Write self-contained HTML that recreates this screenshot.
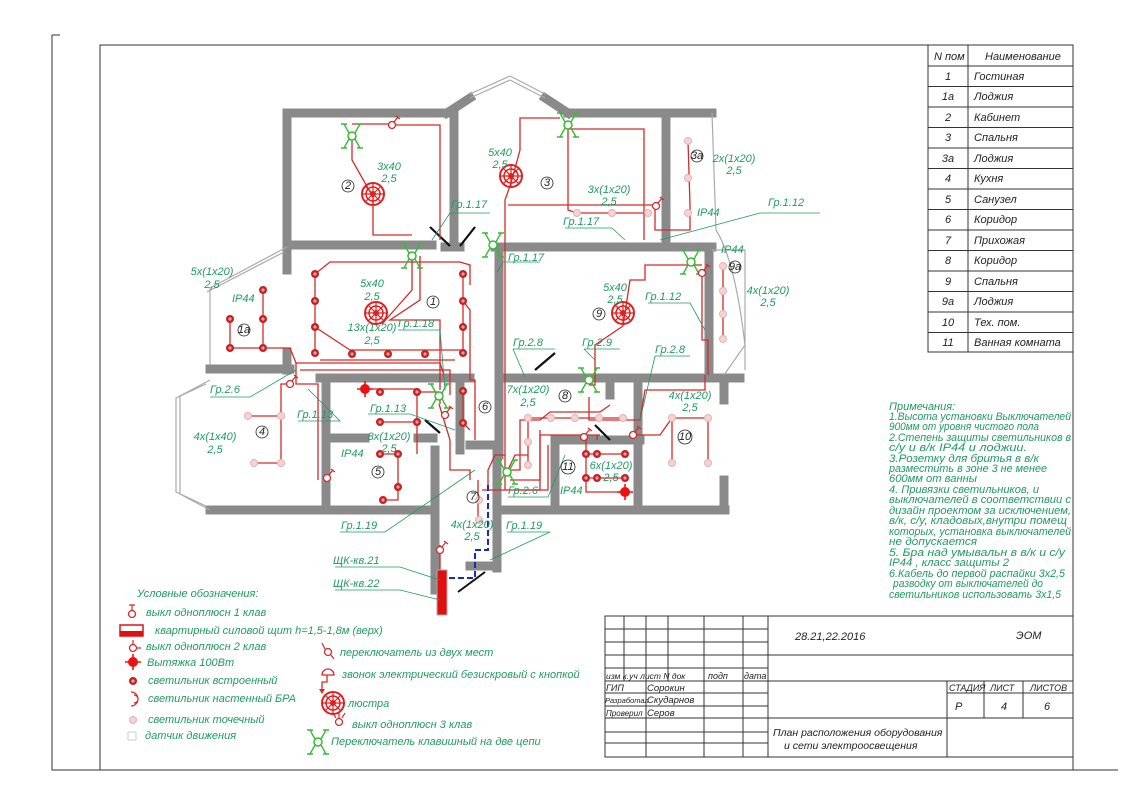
<!DOCTYPE html>
<html><head><meta charset="utf-8"><style>
html,body{margin:0;padding:0;background:#fff}
svg{display:block}
text{font-family:"Liberation Sans","DejaVu Sans",sans-serif;font-style:italic}
.g{fill:#1f9a63;font-size:11px}
.k{fill:#222;font-size:11px}
.w{stroke:#8a8a8a;stroke-width:9;fill:none;stroke-linecap:square}
.r{stroke:#d42a2a;stroke-width:1.3;fill:none}
.gl{stroke:#1f9a63;stroke-width:0.8;fill:none}
.t{stroke:#333;stroke-width:1;fill:none}
</style></head><body>
<svg width="1132" height="800" viewBox="0 0 1132 800" xmlns="http://www.w3.org/2000/svg">
<defs>
<g id="dl"><circle r="4" fill="#c42222"/><circle r="1.6" fill="#f0a0a0"/></g>
<g id="pl"><circle r="3.5" fill="#f3d4d4" stroke="#e8b0b0" stroke-width="1"/></g>
<g id="ch"><circle r="11" fill="none" stroke="#e02020" stroke-width="2"/><circle r="7" fill="none" stroke="#e02020" stroke-width="1.5"/><circle r="3" fill="#e02020"/><path d="M-11 0H11M0-11V11M-8-8L8 8M-8 8L8-8" stroke="#e02020" stroke-width="1.2"/></g>
<g id="sw"><circle r="4" fill="#fff" stroke="#3cb83c" stroke-width="1.5"/><path d="M-3-3L-8-12M3-3L8-12M-3 3L-8 12M3 3L8 12M-11-12H-5M5-12H11M-11 12H-5M5 12H11" stroke="#3cb83c" stroke-width="1.4"/></g>
<g id="s1"><circle r="3.5" fill="#fff" stroke="#d42a2a" stroke-width="1.3"/><path d="M2-3L6-8M4-9L8-6" stroke="#d42a2a" stroke-width="1.2"/></g>
<g id="ex"><circle r="5" fill="#ee1111"/><path d="M-8 0H8M0-8V8" stroke="#ee1111" stroke-width="1.6"/></g>
</defs>

<path d="M52 35V770H1118" class="t"/>
<path d="M52 35H60" class="t"/>
<rect x="100" y="45" width="973" height="725" class="t"/>

<g class="w">
<path d="M287 113H450"/><path d="M447 113L470 98"/><path d="M545 98L568 113"/><path d="M568 113H712"/>
<path d="M287 113V245"/><path d="M287 245H432"/><path d="M445 247H460"/><path d="M454 113V245"/>
<path d="M495 247H712"/><path d="M666 113V240"/>
<path d="M287 245V270"/><path d="M287 352V370"/><path d="M210 369H290"/>
<path d="M499 250V455"/><path d="M320 378H470"/><path d="M499 378H740"/>
<path d="M210 510H433"/><path d="M499 510H725"/>
<path d="M709 248V375"/><path d="M724 380V400"/><path d="M724 480V510"/>
<path d="M326 378V510"/><path d="M326 438H365"/><path d="M418 438H433"/>
<path d="M435 450V590"/><path d="M497 445V568"/><path d="M470 445H497"/><path d="M470 566H497"/>
<path d="M555 440V510"/><path d="M555 440H640"/><path d="M638 380V510"/><path d="M610 380V395"/>
<path d="M460 380V450"/>
</g>
<g stroke="#aaa" stroke-width="1.2" fill="none">
<path d="M470 98L510 80L545 98"/><path d="M470 94L510 76L545 94"/>
<path d="M712 113L716 230Q735 260 745 345L724 375"/>
<path d="M287 247L210 288V365"/><path d="M284 252L207 292"/>
<path d="M210 380L180 396V494L210 510"/><path d="M206 384L176 398V492L206 506"/>
<path d="M712 250H745V370"/>
</g>
<g stroke="#111" stroke-width="2.2">
<path d="M430 227L450 246"/><path d="M475 227L460 246"/><path d="M555 353L535 370"/><path d="M425 420L440 433"/><path d="M595 425L610 440"/>
</g>

<g class="r">
<path d="M352 136V160L373 197V235H412"/>
<path d="M392 125H440V240"/><path d="M352 124H390"/>
<path d="M511 183L520 150V118H560"/><path d="M568 129H644V240"/>
<path d="M511 183L505 200V490"/><path d="M568 129V210L577 213H648"/>
<path d="M508 205H655V230H690V205L688 141"/>
<path d="M412 256V290L382 324"/><path d="M420 256V300L390 320H440V390"/>
<path d="M315 274L330 262H460L470 265V285"/><path d="M315 274V353"/><path d="M315 327L350 350H463"/>
<path d="M463 274V353"/><path d="M463 301L470 310V380H475V440"/>
<path d="M230 319V348H290L296 363"/><path d="M263 290V348"/>
<path d="M296 363H440L444 375"/><path d="M296 363V384H318V480"/>
<path d="M300 370H450V395"/><path d="M320 360H455"/>
<path d="M248 416H281V463H254"/><path d="M281 416V384H290"/>
<path d="M365 389H417V454"/><path d="M380 422H417"/><path d="M380 454H398V500L383 500"/><path d="M417 392H440V404"/>
<path d="M439 404L450 440V470H470V480"/><path d="M463 391V423L470 430"/>
<path d="M623 326L630 280H645V265H702"/><path d="M702 273V340H708V375"/>
<path d="M723 266V339"/><path d="M623 326L595 345V385H589"/>
<path d="M589 397V420H640L645 390H705V375"/>
<path d="M528 418H623"/><path d="M528 418V465"/><path d="M507 472L515 455H528"/>
<path d="M505 470H520V420H540L550 412H600L610 405"/>
<path d="M510 480H540V435H600"/><path d="M515 490H548V445"/>
<path d="M586 454H625"/><path d="M586 478H625"/><path d="M586 440V492H625"/><path d="M597 440V435"/>
<path d="M633 435H660L672 418H708V463"/><path d="M672 418V463"/>
<path d="M488 490V470L495 455H505"/><path d="M478 480V520"/><path d="M482 490H540V430"/>
<path d="M440 545V570"/>
</g>
<g>
<use href="#ch" x="373" y="194"/><use href="#ch" x="511" y="176"/><use href="#ch" x="376" y="313"/><use href="#ch" x="623" y="313"/>
<use href="#dl" x="315" y="274"/><use href="#dl" x="315" y="301"/><use href="#dl" x="315" y="327"/><use href="#dl" x="315" y="353"/><use href="#dl" x="352" y="354"/><use href="#dl" x="388" y="354"/><use href="#dl" x="425" y="354"/><use href="#dl" x="463" y="353"/><use href="#dl" x="463" y="327"/><use href="#dl" x="463" y="301"/><use href="#dl" x="463" y="274"/><use href="#dl" x="463" y="391"/><use href="#dl" x="463" y="423"/>
<use href="#dl" x="263" y="290"/><use href="#dl" x="263" y="319"/><use href="#dl" x="263" y="348"/><use href="#dl" x="230" y="319"/><use href="#dl" x="230" y="348"/>
<use href="#dl" x="380" y="392"/><use href="#dl" x="417" y="392"/><use href="#dl" x="380" y="422"/><use href="#dl" x="417" y="422"/><use href="#dl" x="380" y="454"/><use href="#dl" x="398" y="454"/><use href="#dl" x="398" y="487"/><use href="#dl" x="383" y="500"/>
<use href="#dl" x="586" y="454"/><use href="#dl" x="597" y="454"/><use href="#dl" x="625" y="454"/><use href="#dl" x="586" y="478"/><use href="#dl" x="597" y="478"/><use href="#dl" x="625" y="478"/>
<use href="#ex" x="365" y="389"/><use href="#ex" x="625" y="492"/>
<use href="#pl" x="248" y="416"/><use href="#pl" x="281" y="416"/><use href="#pl" x="254" y="463"/><use href="#pl" x="281" y="463"/>
<use href="#pl" x="672" y="418"/><use href="#pl" x="708" y="418"/><use href="#pl" x="672" y="463"/><use href="#pl" x="708" y="463"/>
<use href="#pl" x="528" y="418"/><use href="#pl" x="551" y="418"/><use href="#pl" x="575" y="418"/><use href="#pl" x="599" y="418"/><use href="#pl" x="623" y="418"/><use href="#pl" x="528" y="442"/><use href="#pl" x="528" y="465"/>
<use href="#pl" x="723" y="266"/><use href="#pl" x="723" y="291"/><use href="#pl" x="723" y="314"/><use href="#pl" x="723" y="339"/>
<use href="#pl" x="688" y="141"/><use href="#pl" x="688" y="178"/><use href="#pl" x="688" y="213"/>
<use href="#pl" x="577" y="213"/><use href="#pl" x="612" y="213"/><use href="#pl" x="648" y="213"/>
<use href="#pl" x="479" y="500"/><use href="#pl" x="479" y="520"/>
<use href="#sw" x="352" y="136"/><use href="#sw" x="568" y="125"/><use href="#sw" x="412" y="256"/><use href="#sw" x="493" y="245"/><use href="#sw" x="439" y="396"/><use href="#sw" x="589" y="380"/><use href="#sw" x="691" y="262"/><use href="#sw" x="507" y="472"/>
<use href="#s1" x="392" y="125"/><use href="#s1" x="656" y="206"/><use href="#s1" x="702" y="273"/><use href="#s1" x="290" y="384"/><use href="#s1" x="327" y="478"/><use href="#s1" x="633" y="435"/><use href="#s1" x="584" y="437"/><use href="#s1" x="445" y="415"/><use href="#s1" x="440" y="550"/>
</g>
<rect x="437" y="570" width="10" height="45" fill="#e01010" stroke="#aaa"/>
<path d="M488 485V550H475V578H447" stroke="#1a2ac0" stroke-width="2" stroke-dasharray="6,3" fill="none"/>
<path d="M458 592L485 572" stroke="#111" stroke-width="2"/>

<g class="gl">
<path d="M450 213H490M450 213L432 240"/><path d="M565 228H612L625 240"/><path d="M503 262H540M503 262L497 272"/>
<path d="M760 213H820M760 213L660 240"/><path d="M648 303H690L705 330"/><path d="M513 349H555M513 349L525 377"/>
<path d="M584 349H620M584 349L595 360"/><path d="M655 356H690M655 356L640 420"/><path d="M398 330H440L445 390"/>
<path d="M210 397H250L296 370"/><path d="M298 421H340L308 389"/><path d="M368 414H410L455 430"/>
<path d="M508 497H548L565 455"/><path d="M340 532H385L475 470"/><path d="M507 532H550L490 560"/>
<path d="M335 567H400L440 580"/><path d="M335 590H400L440 600"/>
</g>

<g class="g" text-anchor="middle">
<text x="389" y="170">3x40</text><text x="389" y="182">2,5</text>
<text x="500" y="156">5x40</text><text x="500" y="168">2,5</text>
<text x="609" y="193">3x(1x20)</text><text x="609" y="205">2,5</text>
<text x="734" y="162">2x(1x20)</text><text x="734" y="174">2,5</text>
<text x="212" y="275">5x(1x20)</text><text x="212" y="288">2,5</text>
<text x="372" y="287">5x40</text><text x="372" y="300">2,5</text>
<text x="372" y="331">13x(1x20)</text><text x="372" y="344">2,5</text>
<text x="615" y="291">5x40</text><text x="615" y="303">2,5</text>
<text x="768" y="294">4x(1x20)</text><text x="768" y="306">2,5</text>
<text x="528" y="393">7x(1x20)</text><text x="528" y="406">2,5</text>
<text x="690" y="399">4x(1x20)</text><text x="690" y="411">2,5</text>
<text x="389" y="440">8x(1x20)</text><text x="389" y="452">2,5</text>
<text x="215" y="440">4x(1x40)</text><text x="215" y="453">2,5</text>
<text x="611" y="469">6x(1x20)</text><text x="611" y="481">2,5</text>
<text x="472" y="528">4x(1x20)</text><text x="472" y="540">2,5</text>
</g>
<g class="g">
<text x="451" y="208">Гр.1.17</text><text x="563" y="225">Гр.1.17</text><text x="508" y="261">Гр.1.17</text>
<text x="768" y="206">Гр.1.12</text><text x="697" y="216">IP44</text><text x="721" y="253">IP44</text>
<text x="232" y="302">IP44</text><text x="398" y="327">Гр.1.18</text><text x="645" y="300">Гр.1.12</text>
<text x="513" y="346">Гр.2.8</text><text x="582" y="346">Гр.2.9</text><text x="655" y="353">Гр.2.8</text>
<text x="210" y="393">Гр.2.6</text><text x="297" y="418">Гр.1.13</text><text x="370" y="412">Гр.1.13</text>
<text x="341" y="457">IP44</text><text x="560" y="494">IP44</text><text x="508" y="494">Гр.2.6</text>
<text x="341" y="529">Гр.1.19</text><text x="506" y="529">Гр.1.19</text>
<text x="333" y="564">ЩК-кв.21</text><text x="333" y="587">ЩК-кв.22</text>
</g>
<g font-size="10" text-anchor="middle">
<g fill="none" stroke="#222" stroke-width="0.8">
<circle cx="348" cy="186" r="6"/><circle cx="547" cy="183" r="6"/><circle cx="433" cy="302" r="6"/><circle cx="244" cy="330" r="6"/><circle cx="599" cy="314" r="6"/><circle cx="735" cy="267" r="6"/><circle cx="697" cy="156" r="6"/><circle cx="485" cy="407" r="6"/><circle cx="565" cy="396" r="6"/><circle cx="262" cy="432" r="6"/><circle cx="378" cy="472" r="6"/><circle cx="473" cy="497" r="6"/><circle cx="685" cy="437" r="7"/><circle cx="568" cy="467" r="7"/>
</g>
<g class="k" font-size="9">
<text x="348" y="189">2</text><text x="547" y="186">3</text><text x="433" y="305">1</text><text x="244" y="333">1a</text><text x="599" y="317">9</text><text x="735" y="270">9a</text><text x="697" y="159">3a</text><text x="485" y="410">6</text><text x="565" y="399">8</text><text x="262" y="435">4</text><text x="378" y="475">5</text><text x="473" y="500">7</text><text x="685" y="440">10</text><text x="568" y="470">11</text>
</g></g>

<g class="t" stroke-width="0.8">
<rect x="928" y="45" width="145" height="307"/><path d="M968 45V352"/>
<path d="M928 66H1073M928 86.5H1073M928 107H1073M928 127.5H1073M928 148H1073M928 168.5H1073M928 189H1073M928 209.5H1073M928 230H1073M928 250.5H1073M928 271H1073M928 291.5H1073M928 312H1073M928 332.5H1073"/>
</g>
<g class="k" font-size="10">
<text x="934" y="60">N пом</text><text x="985" y="60">Наименование</text>
<g text-anchor="middle"><text x="948" y="80">1</text><text x="948" y="100">1a</text><text x="948" y="121">2</text><text x="948" y="141">3</text><text x="948" y="162">3a</text><text x="948" y="182">4</text><text x="948" y="203">5</text><text x="948" y="223">6</text><text x="948" y="244">7</text><text x="948" y="264">8</text><text x="948" y="285">9</text><text x="948" y="305">9a</text><text x="948" y="326">10</text><text x="948" y="346">11</text></g>
<text x="974" y="80">Гостиная</text><text x="974" y="100">Лоджия</text><text x="974" y="121">Кабинет</text><text x="974" y="141">Спальня</text><text x="974" y="162">Лоджия</text><text x="974" y="182">Кухня</text><text x="974" y="203">Санузел</text><text x="974" y="223">Коридор</text><text x="974" y="244">Прихожая</text><text x="974" y="264">Коридор</text><text x="974" y="285">Спальня</text><text x="974" y="305">Лоджия</text><text x="974" y="326">Тех. пом.</text><text x="974" y="346">Ванная комната</text>
</g>

<g class="g" font-size="11">
<text x="889" y="410">Примечания:</text>
<text x="889" y="420" textLength="182" lengthAdjust="spacingAndGlyphs">1.Высота установки Выключателей</text>
<text x="889" y="430" textLength="150" lengthAdjust="spacingAndGlyphs">900мм от уровня чистого пола</text>
<text x="889" y="441" textLength="182" lengthAdjust="spacingAndGlyphs">2.Степень защиты светильников в</text>
<text x="889" y="451" textLength="138" lengthAdjust="spacingAndGlyphs">с/у и в/к IP44 и лоджии.</text>
<text x="889" y="462" textLength="150" lengthAdjust="spacingAndGlyphs">3.Розетку для бритья в в/к</text>
<text x="889" y="472" textLength="158" lengthAdjust="spacingAndGlyphs">разместить в зоне 3 не менее</text>
<text x="889" y="482" textLength="88" lengthAdjust="spacingAndGlyphs">600мм от ванны</text>
<text x="889" y="493" textLength="150" lengthAdjust="spacingAndGlyphs">4. Привязки светильников, и</text>
<text x="889" y="503" textLength="182" lengthAdjust="spacingAndGlyphs">выключателей в соответствии с</text>
<text x="889" y="514" textLength="182" lengthAdjust="spacingAndGlyphs">дизайн проектом за исключением,</text>
<text x="889" y="524" textLength="178" lengthAdjust="spacingAndGlyphs">в/к, с/у, кладовых,внутри помещ</text>
<text x="889" y="535" textLength="182" lengthAdjust="spacingAndGlyphs">которых, установка выключателей</text>
<text x="889" y="545" textLength="88" lengthAdjust="spacingAndGlyphs">не допускается</text>
<text x="889" y="556" textLength="176" lengthAdjust="spacingAndGlyphs">5. Бра над умывальн в в/к и с/у</text>
<text x="889" y="566" textLength="120" lengthAdjust="spacingAndGlyphs">IP44 , класс защиты 2</text>
<text x="889" y="577" textLength="176" lengthAdjust="spacingAndGlyphs">6.Кабель до первой распайки 3х2,5</text>
<text x="893" y="587" textLength="150" lengthAdjust="spacingAndGlyphs">разводку от выключателей до</text>
<text x="889" y="598" textLength="172" lengthAdjust="spacingAndGlyphs">светильников использовать 3х1,5</text>
</g>

<g class="g" font-size="10.5">
<text x="137" y="597">Условные обозначения:</text>
<text x="146" y="616">выкл одноплюсн 1 клав</text>
<text x="155" y="634">квартирный силовой щит h=1,5-1,8м (верх)</text>
<text x="146" y="650">выкл одноплюсн 2 клав</text>
<text x="147" y="666">Вытяжка 100Вт</text>
<text x="148" y="684">светильник встроенный</text>
<text x="148" y="702">светильник настенный БРА</text>
<text x="148" y="723">светильник точечный</text>
<text x="145" y="739">датчик движения</text>
<text x="340" y="656">переключатель из двух мест</text>
<text x="342" y="678">звонок электрический безискровый с кнопкой</text>
<text x="348" y="707">люстра</text>
<text x="352" y="728">выкл одноплюсн 3 клав</text>
<text x="331" y="745">Переключатель клавишный на две цепи</text>
</g>
<g>
<circle cx="132" cy="614" r="3.5" fill="none" stroke="#d42a2a" stroke-width="1.3"/><path d="M132 610V605M129 605H135" stroke="#d42a2a" stroke-width="1.2"/>
<rect x="120" y="625" width="23" height="11" fill="#fff" stroke="#e01010" stroke-width="1.5"/><rect x="120" y="631" width="23" height="5" fill="#e01010"/>
<circle cx="133" cy="648" r="3.5" fill="none" stroke="#d42a2a" stroke-width="1.3"/><path d="M133 644V640M136 648H141" stroke="#d42a2a" stroke-width="1.2"/>
<use href="#ex" x="133" y="662"/>
<use href="#dl" x="133" y="681"/>
<path d="M131 692A7 7 0 0 1 131 706M134 695A4 4 0 0 1 134 703" stroke="#d42a2a" fill="none" stroke-width="1.2"/>
<use href="#pl" x="133" y="720"/>
<rect x="128" y="732" width="8" height="8" fill="none" stroke="#ccc"/>
<circle cx="328" cy="652" r="3.5" fill="none" stroke="#d42a2a" stroke-width="1.3"/><path d="M325 649L322 643M331 655L334 659" stroke="#d42a2a" stroke-width="1.2"/>
<path d="M322 675A6 6 0 0 1 334 675ZM327 675V682H322V690" stroke="#d42a2a" fill="none" stroke-width="1.3"/><path d="M319 689L322 694L325 689Z" fill="#d42a2a"/>
<use href="#ch" x="333" y="703"/>
<circle cx="339" cy="722" r="3.5" fill="none" stroke="#d42a2a" stroke-width="1.3"/><path d="M336 718L333 713M342 718L345 713M339 718V713" stroke="#d42a2a" stroke-width="1.2"/>
<use href="#sw" x="318" y="742"/>
</g>

<g class="t" stroke-width="0.9">
<rect x="605" y="616" width="468" height="141"/>
<path d="M624 616V681M646 616V757M668 616V681M704 616V757M743 616V757M768 616V757"/>
<path d="M605 629H768M605 642H768M605 655H1073M605 668H768M605 681H1073M605 693H768M605 706H768M605 718H1073M605 732H768M605 743H768"/>
<path d="M947 681V757M984 681V718M1023 681V718M947 693H1073"/>
</g>
<g class="k" font-size="10">
<text x="795" y="640" font-size="11">28.21,22.2016</text>
<text x="1016" y="639">ЭОМ</text>
<text x="606" y="679" font-size="8.5">изм к.уч лист N док</text><text x="708" y="679" font-size="9">подп</text><text x="744" y="679" font-size="9">дата</text>
<text x="606" y="691" font-size="9">ГИП</text><text x="647" y="691" font-size="9.5">Сорокин</text>
<text x="605" y="703" font-size="7.5">Разработал</text><text x="647" y="703" font-size="9.5">Скударнов</text>
<text x="606" y="716" font-size="8">Проверил</text><text x="647" y="716" font-size="9.5">Серов</text>
<text x="949" y="691" font-size="9">СТАДИЯ</text><text x="990" y="691" font-size="9">ЛИСТ</text><text x="1030" y="691" font-size="9">ЛИСТОВ</text>
<text x="955" y="710" font-size="11">Р</text><text x="1001" y="710" font-size="11">4</text><text x="1044" y="710" font-size="11">6</text>
<text x="773" y="736" font-size="10.5">План расположения оборудования</text>
<text x="784" y="749" font-size="10.5">и сети электроосвещения</text>
</g>
</svg>
</body></html>
